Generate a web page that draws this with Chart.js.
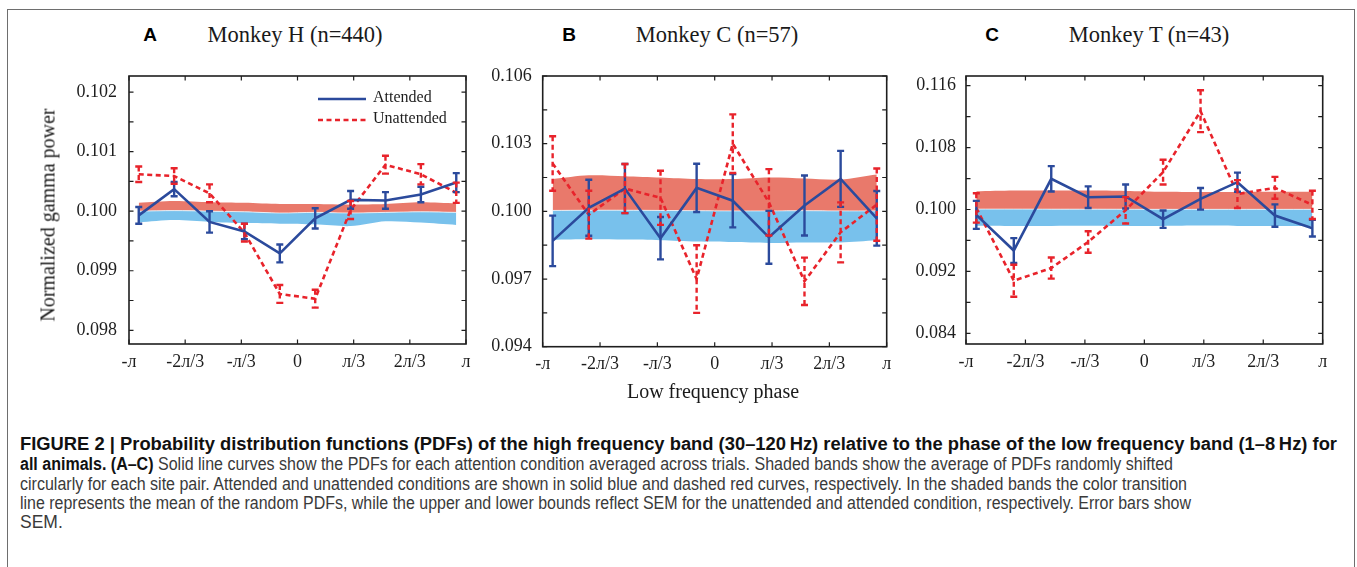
<!DOCTYPE html>
<html><head><meta charset="utf-8">
<script src="https://cdn.jsdelivr.net/npm/chart.js@4.4.1/dist/chart.umd.min.js"></script>
<style>
html,body{margin:0;padding:0;background:#fff;width:1357px;height:567px;overflow:hidden;position:relative;}
#frame{position:absolute;left:7px;top:9px;width:1348px;height:580px;border:1px solid #6e6e6e;box-sizing:border-box;}
canvas{position:absolute;}
.t{position:absolute;white-space:nowrap;color:#1a1a1a;transform:translate(-50%,-50%);}
.serif{font-family:"Liberation Serif","Times New Roman",serif;}
.letter{font-family:"Liberation Sans",Arial,sans-serif;font-weight:bold;font-size:19px;color:#000;}
.title{font-size:22.5px;}
.cap{position:absolute;left:20px;white-space:nowrap;font-family:"Liberation Sans Narrow","Liberation Sans",Arial,sans-serif;font-size:17.5px;color:#3a3a3a;transform-origin:0 50%;line-height:20px;}
.cap b{color:#111;}
</style></head>
<body>
<div id="frame"></div>
<canvas id="cA" width="490" height="320" style="left:0px;top:60px"></canvas>
<canvas id="cB" width="420" height="320" style="left:480px;top:60px"></canvas>
<canvas id="cC" width="450" height="320" style="left:900px;top:60px"></canvas>

<div class="t letter" style="left:150px;top:35px">A</div>
<div class="t serif title" style="left:295px;top:35px">Monkey H (n=440)</div>
<div class="t letter" style="left:569px;top:35px">B</div>
<div class="t serif title" style="left:717px;top:35px">Monkey C (n=57)</div>
<div class="t letter" style="left:992px;top:35px">C</div>
<div class="t serif title" style="left:1149px;top:35px">Monkey T (n=43)</div>
<div class="t serif" style="left:48px;top:215px;font-size:20px;transform:translate(-50%,-50%) rotate(-90deg)">Normalized gamma power</div>
<div class="t serif" style="left:713px;top:391px;font-size:20px">Low frequency phase</div>

<div class="cap" data-w="1317" style="top:434px"><b>FIGURE 2 | Probability distribution functions (PDFs) of the high frequency band (30–120&#8201;Hz) relative to the phase of the low frequency band (1–8&#8201;Hz) for</b></div>
<div class="cap" data-w="1153" style="top:454px"><b>all animals. (A–C)</b> Solid line curves show the PDFs for each attention condition averaged across trials. Shaded bands show the average of PDFs randomly shifted</div>
<div class="cap" data-w="1167" style="top:474px">circularly for each site pair. Attended and unattended conditions are shown in solid blue and dashed red curves, respectively. In the shaded bands the color transition</div>
<div class="cap" data-w="1171" style="top:493px">line represents the mean of the random PDFs, while the upper and lower bounds reflect SEM for the unattended and attended condition, respectively. Error bars show</div>
<div class="cap" style="top:512px">SEM.</div>

<script>
// ---- shared x data ----
const phases = [-2.96, -2.30, -1.64, -0.99, -0.33, 0.33, 0.99, 1.64, 2.30, 2.96];
const xTickUnits = [-3, -2, -1, 0, 1, 2, 3]; // multiples of pi/3
const xTickLabels = ['-л', '-2л/3', '-л/3', '0', 'л/3', '2л/3', 'л'];

// ---- Panel A: Monkey H ----
const attA    = [0.09993, 0.10037, 0.09982, 0.09966, 0.09929, 0.09988, 0.10019, 0.10018, 0.10028, 0.10048];
const attErrA = [0.00014, 0.00012, 0.00018, 0.00013, 0.00015, 0.00017, 0.00015, 0.00014, 0.00013, 0.00016];
const unA     = [0.10062, 0.10059, 0.10030, 0.09964, 0.09861, 0.09853, 0.10002, 0.10078, 0.10062, 0.10031];
const unErrA  = [0.00013, 0.00013, 0.00015, 0.00015, 0.00015, 0.00015, 0.00015, 0.00015, 0.00017, 0.00017];
const bandHiA = [0.10014, 0.10017, 0.10015, 0.10014, 0.10012, 0.10012, 0.10011, 0.10012, 0.10015, 0.10013];
const bandMidA= [0.10000, 0.10001, 0.10000, 0.09999, 0.09997, 0.09998, 0.09997, 0.09998, 0.09999, 0.09998];
const bandLoA = [0.09981, 0.09985, 0.09982, 0.09980, 0.09979, 0.09978, 0.09975, 0.09983, 0.09981, 0.09977];
const yTicksA = [0.098, 0.099, 0.100, 0.101, 0.102];
const yMinorA = [0.0985, 0.0995, 0.1005, 0.1015];

// ---- Panel B: Monkey C ----
const attB    = [0.09869, 0.10016, 0.10101, 0.09881, 0.10104, 0.10047, 0.09885, 0.10026, 0.10144, 0.09969];
const attErrB = [0.00112, 0.00124, 0.00109, 0.00094, 0.00107, 0.00118, 0.00117, 0.00133, 0.00124, 0.00121];
const unB     = [0.10212, 0.09985, 0.10101, 0.10060, 0.09700, 0.10300, 0.10040, 0.09690, 0.09907, 0.10030];
const unErrB  = [0.00121, 0.00106, 0.00109, 0.00120, 0.00150, 0.00130, 0.00147, 0.00105, 0.00133, 0.00160];
const bandHiB = [0.10143, 0.10160, 0.10156, 0.10150, 0.10143, 0.10143, 0.10150, 0.10146, 0.10141, 0.10163];
const bandMidB= [0.10004, 0.10005, 0.10005, 0.10004, 0.10003, 0.10002, 0.10002, 0.10003, 0.10002, 0.10002];
const bandLoB = [0.09874, 0.09876, 0.09875, 0.09872, 0.09866, 0.09864, 0.09860, 0.09862, 0.09862, 0.09872];
const yTicksB = [0.094, 0.097, 0.100, 0.103, 0.106];
const yMinorB = [0.0955, 0.0985, 0.1015, 0.1045];

// ---- Panel C: Monkey T ----
const attC    = [0.09931, 0.09470, 0.10397, 0.10159, 0.10168, 0.09875, 0.10138, 0.10353, 0.09922, 0.09759];
const attErrC = [0.00181, 0.00160, 0.00164, 0.00140, 0.00155, 0.00112, 0.00140, 0.00123, 0.00144, 0.00108];
const unC     = [0.10020, 0.09080, 0.09243, 0.09580, 0.09990, 0.10483, 0.11270, 0.10200, 0.10280, 0.10060];
const unErrC  = [0.00190, 0.00207, 0.00136, 0.00138, 0.00170, 0.00160, 0.00270, 0.00180, 0.00142, 0.00183];
const bandHiC = [0.10235, 0.10245, 0.10246, 0.10244, 0.10240, 0.10228, 0.10226, 0.10226, 0.10228, 0.10228];
const bandMidC= [0.10005, 0.10005, 0.10004, 0.10004, 0.10003, 0.10002, 0.10002, 0.10002, 0.10002, 0.10002];
const bandLoC = [0.09790, 0.09788, 0.09788, 0.09790, 0.09786, 0.09788, 0.09792, 0.09788, 0.09786, 0.09788];
const yTicksC = [0.084, 0.092, 0.100, 0.108, 0.116];
const yMinorC = [0.088, 0.096, 0.104, 0.112];

const BLUE = '#2b4a9c', RED = '#e8232b', BAND_RED = '#e9796b', BAND_BLUE = '#78c1ec', INK = '#1e1e1e';
const SERIF = '"Liberation Serif","Times New Roman",serif';

function pts(vals) { return vals.map((v, i) => ({x: phases[i], y: v})); }

const errorBarPlugin = {
  id: 'errbars',
  afterDatasetsDraw(chart) {
    const ctx = chart.ctx, xs = chart.scales.x, ys = chart.scales.y;
    chart.data.datasets.forEach((ds) => {
      if (!ds.errorBars) return;
      ctx.save();
      ctx.strokeStyle = ds.borderColor;
      ctx.lineWidth = 2.4;
      ds.data.forEach((p, i) => {
        const e = ds.errorBars[i];
        const x = xs.getPixelForValue(p.x);
        const y1 = ys.getPixelForValue(p.y + e), y2 = ys.getPixelForValue(p.y - e);
        ctx.setLineDash(ds.borderDash || []);
        ctx.beginPath(); ctx.moveTo(x, y1); ctx.lineTo(x, y2); ctx.stroke();
        ctx.setLineDash([]);
        ctx.beginPath();
        ctx.moveTo(x - 3.5, y1); ctx.lineTo(x + 3.5, y1);
        ctx.moveTo(x - 3.5, y2); ctx.lineTo(x + 3.5, y2);
        ctx.stroke();
      });
      ctx.restore();
    });
  }
};

const boxPlugin = {
  id: 'box',
  afterDraw(chart) {
    const ctx = chart.ctx, a = chart.chartArea, xs = chart.scales.x, ys = chart.scales.y;
    const o = chart.options.plugins.box;
    ctx.save();
    ctx.strokeStyle = INK; ctx.lineWidth = 1.6; ctx.setLineDash([]);
    ctx.strokeRect(a.left, a.top, a.right - a.left, a.bottom - a.top);
    ctx.lineWidth = 1.2;
    const L = 4.5;
    ctx.beginPath();
    o.yMajor.concat(o.yMinor).forEach(v => {
      const y = ys.getPixelForValue(v);
      if (y < a.top - 0.5 || y > a.bottom + 0.5) return;
      ctx.moveTo(a.left, y); ctx.lineTo(a.left + L, y);
      ctx.moveTo(a.right, y); ctx.lineTo(a.right - L, y);
    });
    xTickUnits.forEach(u => {
      const x = xs.getPixelForValue(u * Math.PI / 3);
      ctx.moveTo(x, a.bottom); ctx.lineTo(x, a.bottom - L);
      ctx.moveTo(x, a.top); ctx.lineTo(x, a.top + L);
    });
    ctx.stroke();
    ctx.restore();
  }
};

const legendPlugin = {
  id: 'leg',
  afterDraw(chart) {
    if (!chart.options.plugins.leg || !chart.options.plugins.leg.show) return;
    const ctx = chart.ctx, a = chart.chartArea;
    const items = chart.data.datasets.filter(d => d.legendText);
    ctx.save();
    items.forEach((d, k) => {
      const y = a.top + 23 + k * 21;
      ctx.strokeStyle = d.borderColor; ctx.lineWidth = 2.6;
      ctx.setLineDash(d.borderDash || []);
      ctx.beginPath(); ctx.moveTo(a.left + 189, y); ctx.lineTo(a.left + 237, y); ctx.stroke();
      ctx.setLineDash([]);
      ctx.fillStyle = INK; ctx.font = '16px ' + SERIF;
      ctx.textBaseline = 'middle'; ctx.textAlign = 'left';
      ctx.fillText(d.legendText, a.left + 244, y - 1);
    });
    ctx.restore();
  }
};

function makePanel(id, p) {
  const ds = [
    {label: 'Attended', legendText: 'Attended', data: pts(p.att), errorBars: p.attErr, borderColor: BLUE, borderWidth: 2.6,
     pointRadius: 0, fill: false, tension: 0, order: 0},
    {label: 'Unattended', legendText: 'Unattended', data: pts(p.un), errorBars: p.unErr, borderColor: RED, borderWidth: 2.6,
     borderDash: [5, 3.5], pointRadius: 0, fill: false, tension: 0, order: 1},
    {label: 'bandHi', data: pts(p.hi), borderWidth: 0, borderColor: BAND_RED, backgroundColor: BAND_RED,
     pointRadius: 0, fill: '+1', tension: 0.3, order: 5},
    {label: 'bandMid', data: pts(p.mid), borderWidth: 1, borderColor: 'rgba(255,255,255,0.7)', backgroundColor: BAND_BLUE,
     pointRadius: 0, fill: '+1', tension: 0.3, order: 4},
    {label: 'bandLo', data: pts(p.lo), borderWidth: 0, borderColor: BAND_BLUE,
     pointRadius: 0, fill: false, tension: 0.3, order: 6}
  ];
  return new Chart(document.getElementById(id), {
    type: 'line',
    data: {datasets: ds},
    plugins: [errorBarPlugin, boxPlugin, legendPlugin],
    options: {
      responsive: false, animation: false, devicePixelRatio: 1,
      layout: {padding: {left: 0, right: p.padR, top: 16, bottom: 0}},
      plugins: {legend: {display: false}, tooltip: {enabled: false},
                box: {yMajor: p.yTicks, yMinor: p.yMinor}, leg: {show: !!p.legend}},
      scales: {
        x: {type: 'linear', min: -Math.PI, max: Math.PI,
            grid: {display: false, drawTicks: false}, border: {display: false},
            afterBuildTicks: s => { s.ticks = xTickUnits.map(u => ({value: u * Math.PI / 3})); },
            afterFit: s => { s.height = p.xH; s.paddingLeft = 0; s.paddingRight = 0; },
            ticks: {autoSkip: false, maxRotation: 0, padding: 7, color: INK,
                    font: {family: SERIF, size: 18},
                    callback: (v, i) => xTickLabels[i]}},
        y: {type: 'linear', min: p.yMin, max: p.yMax,
            grid: {display: false, drawTicks: false}, border: {display: false},
            afterBuildTicks: s => { s.ticks = p.yTicks.map(v => ({value: v})); },
            afterFit: s => { s.width = p.yW; s.paddingTop = 0; s.paddingBottom = 0; },
            ticks: {padding: p.yPad, color: INK, font: {family: SERIF, size: 18},
                    callback: v => Number(v).toFixed(3)}}
      }
    }
  });
}

makePanel('cA', {att: attA, attErr: attErrA, un: unA, unErr: unErrA, hi: bandHiA, mid: bandMidA, lo: bandLoA,
  yTicks: yTicksA, yMinor: yMinorA, yMin: 0.09777, yMax: 0.10227, yW: 129, padR: 24, xH: 36, yPad: 12, legend: true});
makePanel('cB', {att: attB, attErr: attErrB, un: unB, unErr: unErrB, hi: bandHiB, mid: bandMidB, lo: bandLoB,
  yTicks: yTicksB, yMinor: yMinorB, yMin: 0.094, yMax: 0.106, yW: 62.7, padR: 13.3, xH: 33.3, yPad: 11});
makePanel('cC', {att: attC, attErr: attErrC, un: unC, unErr: unErrC, hi: bandHiC, mid: bandMidC, lo: bandLoC,
  yTicks: yTicksC, yMinor: yMinorC, yMin: 0.08262, yMax: 0.11725, yW: 66, padR: 27.3, xH: 36, yPad: 10});

// fit caption lines to the reference widths
document.querySelectorAll('.cap[data-w]').forEach(el => {
  const w = el.getBoundingClientRect().width;
  const target = parseFloat(el.dataset.w);
  el.style.transform = 'scaleX(' + (target / w) + ')';
});
</script>
</body></html>
